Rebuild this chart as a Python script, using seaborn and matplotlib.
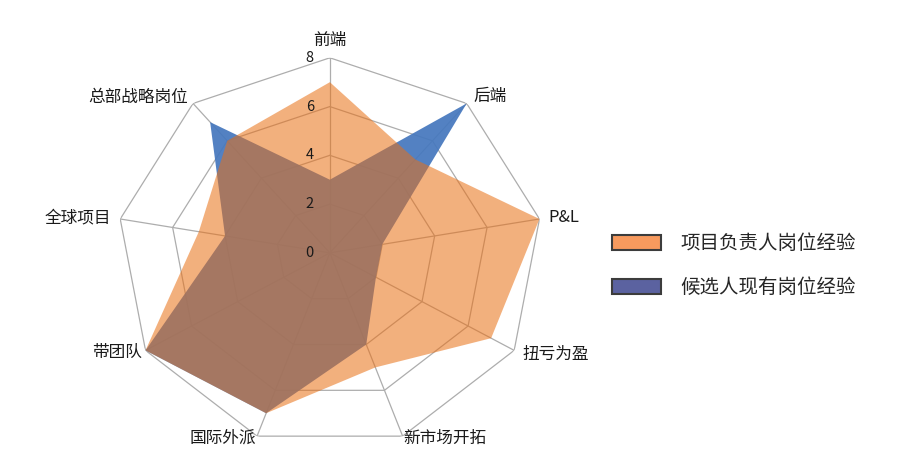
import numpy as np
import matplotlib
matplotlib.use("Agg")
import matplotlib.pyplot as plt
import matplotlib.transforms as mtransforms
from matplotlib.patches import Patch
import seaborn as sns

# radar data: 9 dimensions, scale 0-8
categories = ['前端', '后端', 'P&L', '扭亏为盈', '新市场开拓', '国际外派', '带团队', '全球项目', '总部战略岗位']
required = [7, 5, 8, 7, 5, 7, 8, 5, 6]      # 项目负责人岗位经验
candidate = [3, 8, 2, 2, 4, 7, 8, 4, 7]     # 候选人现有岗位经验
series_names = ['项目负责人岗位经验', '候选人现有岗位经验']
rticks = [0, 2, 4, 6, 8]

sns.set_theme(style='white')
plt.rcParams['font.family'] = ['Noto Sans CJK SC', 'DejaVu Sans']

fig = plt.figure(figsize=(9, 4.7), dpi=100)
ax = fig.add_axes([0.130, 0.047, 0.473, 0.830], projection='polar')
ax.set_aspect('auto')
ax.set_theta_zero_location('N')
ax.set_theta_direction(-1)
ax.set_ylim(0, 8)
ax.grid(False)
ax.set_xticks([])
ax.set_yticks([])
ax.spines['polar'].set_visible(False)
ax.set_facecolor('none')

n = len(categories)
angles = np.linspace(0, 2 * np.pi, n, endpoint=False)
closed = np.append(angles, angles[0])

# polygon grid + spokes
for r in rticks[1:]:
    ax.plot(closed, [r] * (n + 1), color='#adadad', lw=0.9, zorder=1)
for a in angles:
    ax.plot([a, a], [0, 8], color='#adadad', lw=0.9, zorder=1)

# series: candidate underneath, required on top semi-transparent
cand = np.append(candidate, candidate[0])
req = np.append(required, required[0])
ax.fill(closed, cand, color='#4678be', alpha=0.93, lw=0, zorder=2)
ax.fill(closed, req, color='#e96f13', alpha=0.55, lw=0, zorder=3)

# radial tick labels left of top spoke
off = mtransforms.offset_copy(ax.transData, fig=fig, x=-20, y=0, units='dots')
for r in rticks:
    ax.text(0, r, str(r), transform=off, ha='center', va='center',
            fontsize=10.5, color='#1a1a1a', zorder=5)

# category labels
label_pos = [
    (8.72, 'center'), (8.4, 'left'), (8.35, 'left'), (8.35, 'left'), (8.1, 'left'),
    (8.1, 'right'), (8.15, 'right'), (8.35, 'right'), (8.3, 'right'),
]
for a, lab, (r, ha) in zip(angles, categories, label_pos):
    ax.text(a, r, lab, ha=ha, va='center', fontsize=12, color='#1a1a1a')

handles = [
    Patch(facecolor='#f79a5e', edgecolor='#3c3c3c', lw=1.5),
    Patch(facecolor='#5b62a0', edgecolor='#3c3c3c', lw=1.5),
]
fig.legend(handles, series_names, loc='upper left', bbox_to_anchor=(0.68, 0.504),
           frameon=False, fontsize=14, borderpad=0, borderaxespad=0,
           handlelength=2.53, handleheight=0.82, handletextpad=0.98,
           labelspacing=1.19)

fig.savefig('out.png', dpi=100)
